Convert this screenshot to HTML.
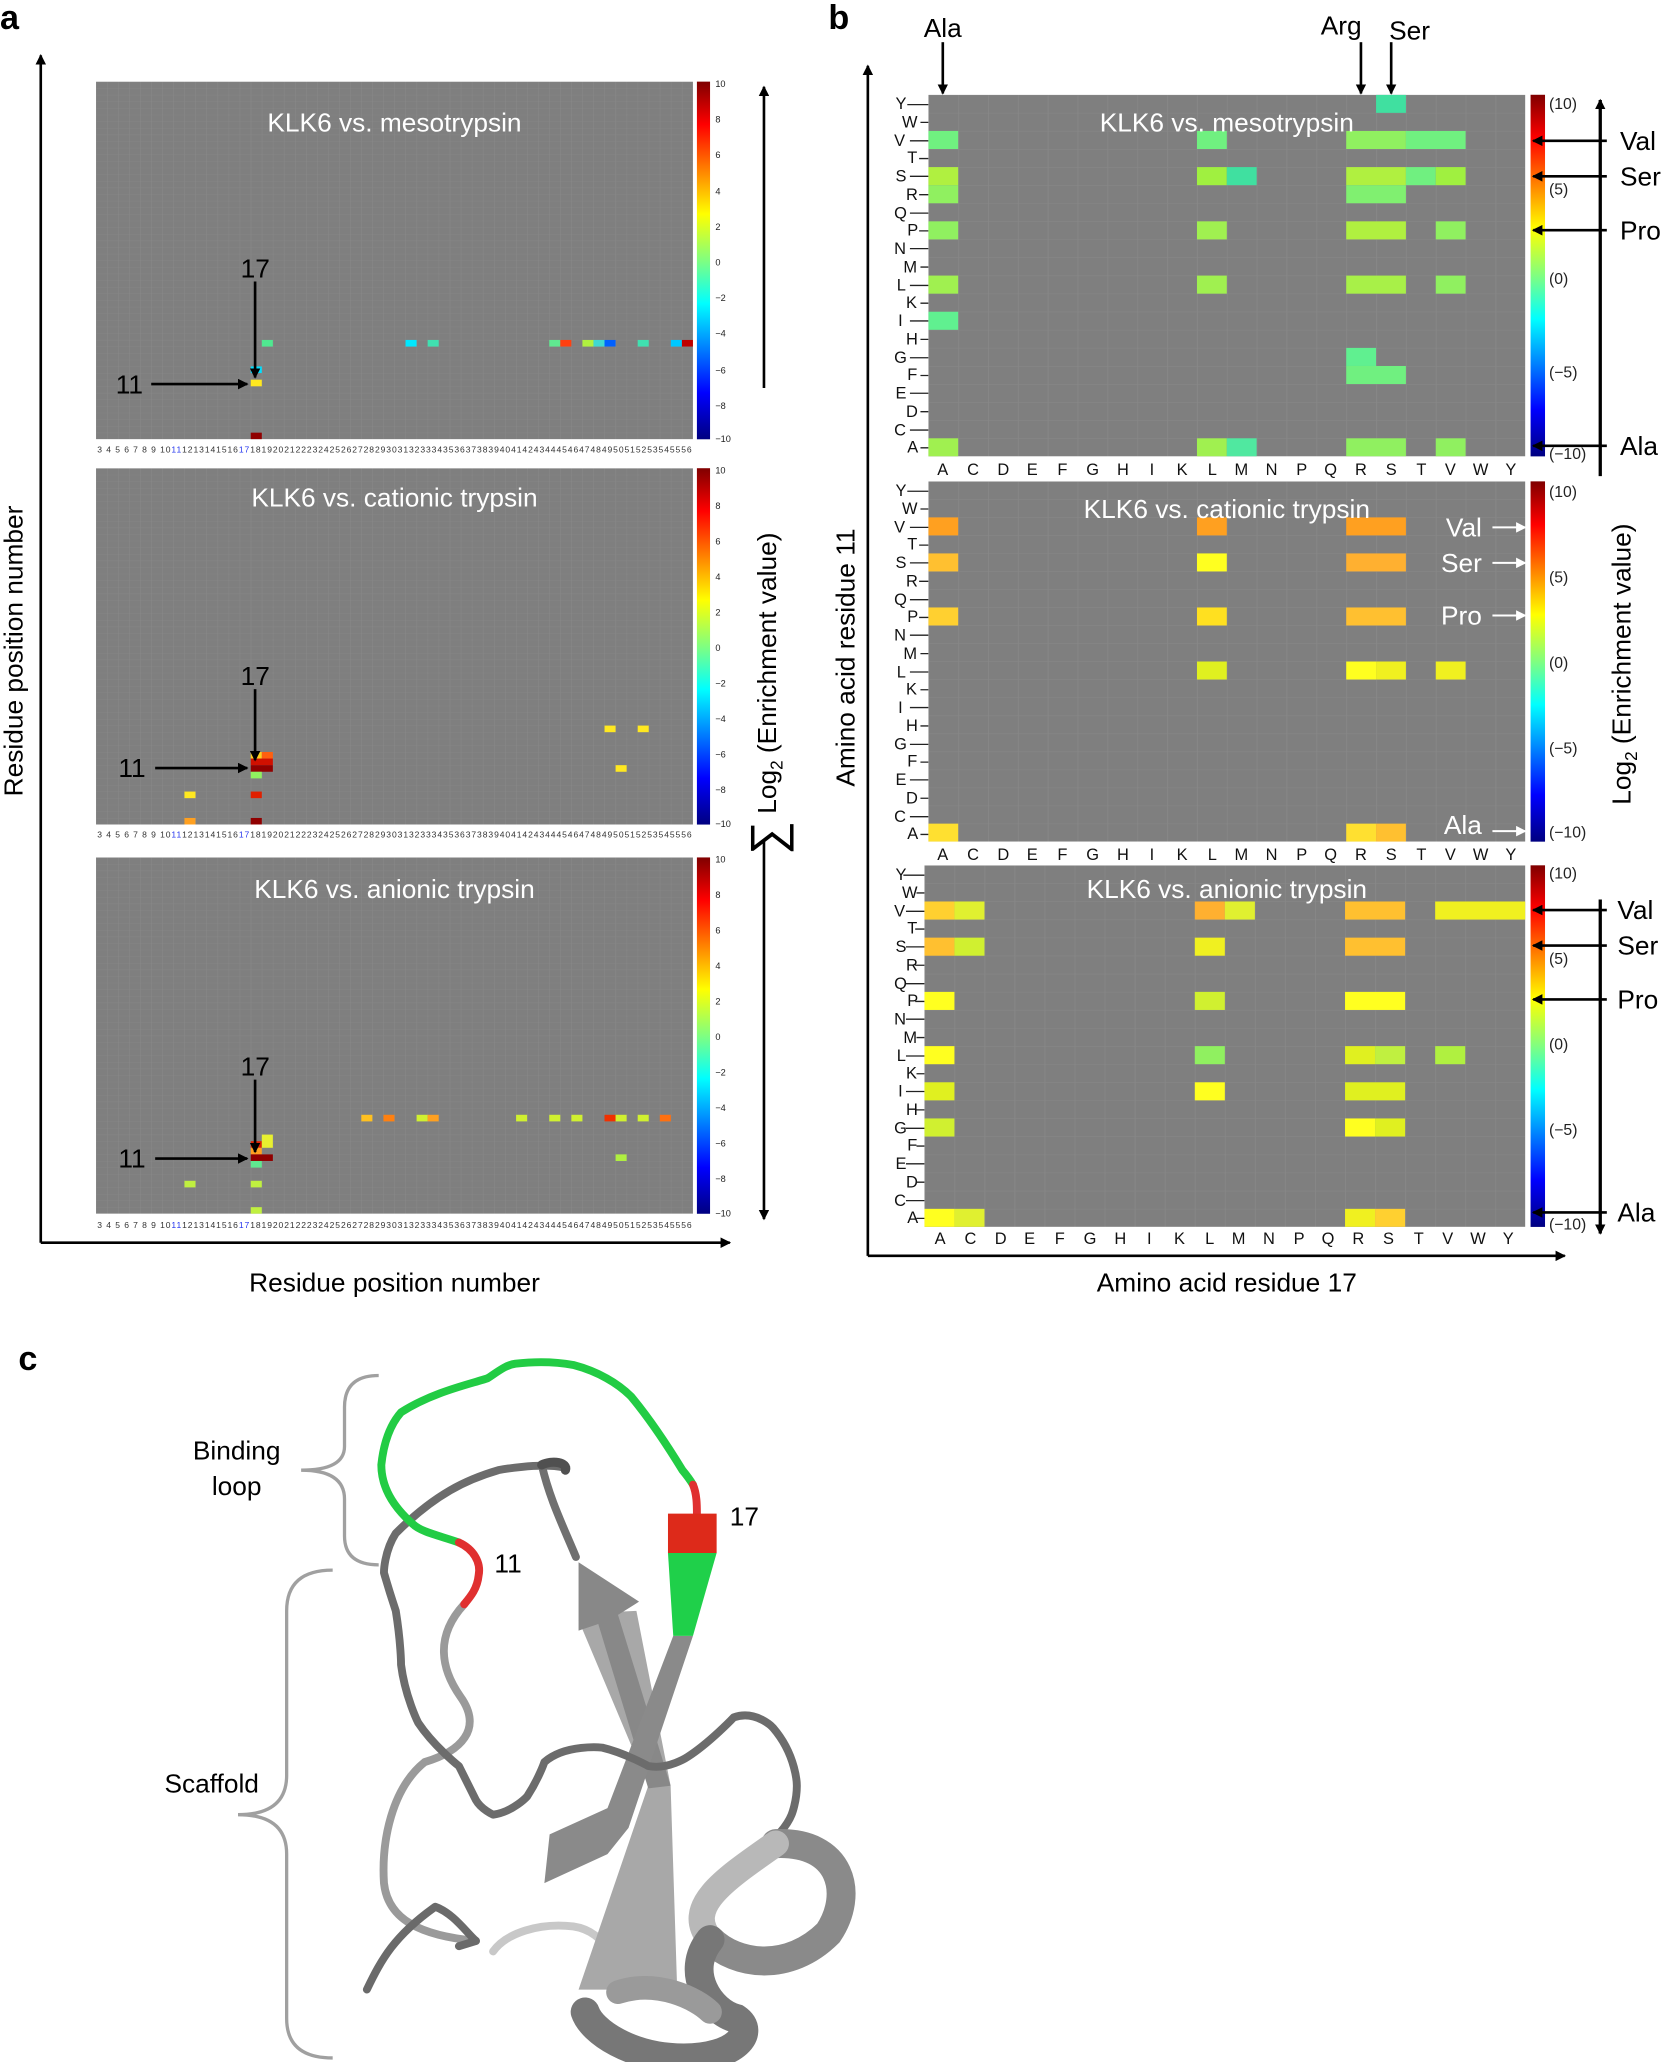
<!DOCTYPE html>
<html><head><meta charset="utf-8"><style>
html,body{margin:0;padding:0;background:#fff;}
svg{display:block;font-family:"Liberation Sans",sans-serif;}
</style></head><body>
<svg width="1666" height="2062" viewBox="0 0 1267 1568" xmlns="http://www.w3.org/2000/svg">
<defs>
<linearGradient id="jet" x1="0" y1="0" x2="0" y2="1">
<stop offset="0" stop-color="#800000"/><stop offset="0.12" stop-color="#ff0000"/><stop offset="0.37" stop-color="#ffff00"/><stop offset="0.5" stop-color="#80ff80"/><stop offset="0.62" stop-color="#00ffff"/><stop offset="0.87" stop-color="#0000ff"/><stop offset="1" stop-color="#000080"/>
</linearGradient>
<pattern id="g1" width="1" height="1" patternUnits="userSpaceOnUse"><rect width="1" height="1" fill="#7f7f7f"/><path d="M0 0H1M0 0V1" stroke="#8a8a8a" stroke-width="0.08" fill="none"/></pattern>
<pattern id="g2" width="1" height="1" patternUnits="userSpaceOnUse"><rect width="1" height="1" fill="#7f7f7f"/><path d="M0 0H1M0 0V1" stroke="#888" stroke-width="0.05" fill="none"/></pattern>
<marker id="ah" markerWidth="8" markerHeight="8" refX="7" refY="4" orient="auto" markerUnits="userSpaceOnUse"><path d="M0 0L8 4L0 8z" fill="#000"/></marker>
<marker id="ahw" markerWidth="8" markerHeight="8" refX="7" refY="4" orient="auto" markerUnits="userSpaceOnUse"><path d="M0 0L8 4L0 8z" fill="#fff"/></marker>
</defs>

<!-- ===== Panel a ===== -->
<text x="0" y="22" font-size="26" font-weight="bold">a</text>
<line x1="31" y1="945" x2="31" y2="42" stroke="#000" stroke-width="2" marker-end="url(#ah)"/>
<line x1="31" y1="945" x2="555" y2="945" stroke="#000" stroke-width="2" marker-end="url(#ah)"/>
<text transform="translate(17,495) rotate(-90)" font-size="20" text-anchor="middle">Residue position number</text>
<text x="300" y="982" font-size="20" text-anchor="middle">Residue position number</text>

<!-- heatmap a1 -->
<svg x="73" y="62" width="454" height="272" viewBox="0 0 54 54" preserveAspectRatio="none">
<rect width="54" height="54" fill="url(#g1)"/>
<rect x="15" y="39" width="1" height="1" fill="#50e890"/>
<rect x="28" y="39" width="1" height="1" fill="#00e8ff"/>
<rect x="30" y="39" width="1" height="1" fill="#40e0b0"/>
<rect x="41" y="39" width="1" height="1" fill="#60e890"/>
<rect x="42" y="39" width="1" height="1" fill="#ff4010"/>
<rect x="44" y="39" width="1" height="1" fill="#b0f040"/>
<rect x="45" y="39" width="1" height="1" fill="#40d8d0"/>
<rect x="46" y="39" width="1" height="1" fill="#0060ff"/>
<rect x="49" y="39" width="1" height="1" fill="#40e0b0"/>
<rect x="52" y="39" width="1" height="1" fill="#00c8ff"/>
<rect x="53" y="39" width="1" height="1" fill="#c00000"/>
<rect x="14" y="43" width="1" height="1" fill="#00e0ff"/>
<rect x="14" y="45" width="1" height="1" fill="#ffe820"/>
<rect x="14" y="53" width="1" height="1" fill="#900000"/>
</svg>
<rect x="530" y="62" width="10" height="272" fill="url(#jet)"/>
<g font-size="7" fill="#222">
<text x="544" y="66">10</text><text x="544" y="93">8</text><text x="544" y="120">6</text><text x="544" y="148">4</text><text x="544" y="175">2</text><text x="544" y="202">0</text><text x="544" y="229">−2</text><text x="544" y="256">−4</text><text x="544" y="284">−6</text><text x="544" y="311">−8</text><text x="544" y="336">−10</text>
</g>
<text x="300" y="100" font-size="20" fill="#fff" text-anchor="middle">KLK6 vs. mesotrypsin</text>

<!-- heatmap a2 -->
<svg x="73" y="356" width="454" height="271" viewBox="0 0 54 54" preserveAspectRatio="none">
<rect width="54" height="54" fill="url(#g1)"/>
<rect x="46" y="39" width="1" height="1" fill="#ffe820"/>
<rect x="49" y="39" width="1" height="1" fill="#ffe820"/>
<rect x="47" y="45" width="1" height="1" fill="#ffe820"/>
<rect x="14" y="43" width="1" height="1" fill="#ffd020"/>
<rect x="15" y="43" width="1" height="1" fill="#ff6010"/>
<rect x="14" y="44" width="2" height="1" fill="#d01000"/>
<rect x="14" y="45" width="2" height="1" fill="#900000"/>
<rect x="14" y="46" width="1" height="1" fill="#90f060"/>
<rect x="8" y="49" width="1" height="1" fill="#ffe820"/>
<rect x="14" y="49" width="1" height="1" fill="#e02000"/>
<rect x="8" y="53" width="1" height="1" fill="#ffa020"/>
<rect x="14" y="53" width="1" height="1" fill="#900000"/>
</svg>
<rect x="530" y="356" width="10" height="271" fill="url(#jet)"/>
<g font-size="7" fill="#222">
<text x="544" y="360">10</text><text x="544" y="387">8</text><text x="544" y="414">6</text><text x="544" y="441">4</text><text x="544" y="468">2</text><text x="544" y="495">0</text><text x="544" y="522">−2</text><text x="544" y="549">−4</text><text x="544" y="576">−6</text><text x="544" y="603">−8</text><text x="544" y="629">−10</text>
</g>
<text x="300" y="385" font-size="20" fill="#fff" text-anchor="middle">KLK6 vs. cationic trypsin</text>

<!-- heatmap a3 -->
<svg x="73" y="652" width="454" height="271" viewBox="0 0 54 54" preserveAspectRatio="none">
<rect width="54" height="54" fill="url(#g1)"/>
<rect x="24" y="39" width="1" height="1" fill="#ffc020"/>
<rect x="26" y="39" width="1" height="1" fill="#ff8010"/>
<rect x="29" y="39" width="1" height="1" fill="#d0f030"/>
<rect x="30" y="39" width="1" height="1" fill="#ffa020"/>
<rect x="38" y="39" width="1" height="1" fill="#d0f030"/>
<rect x="41" y="39" width="1" height="1" fill="#d0f030"/>
<rect x="43" y="39" width="1" height="1" fill="#d0f030"/>
<rect x="46" y="39" width="1" height="1" fill="#f03000"/>
<rect x="47" y="39" width="1" height="1" fill="#d0f030"/>
<rect x="49" y="39" width="1" height="1" fill="#d0f030"/>
<rect x="51" y="39" width="1" height="1" fill="#ff7010"/>
<rect x="47" y="45" width="1" height="1" fill="#b0f040"/>
<rect x="14" y="43" width="1" height="1" fill="#e02000"/>
<rect x="15" y="42" width="1" height="2" fill="#e8f030"/>
<rect x="14" y="44" width="1" height="1" fill="#ffa020"/>
<rect x="14" y="45" width="2" height="1" fill="#900000"/>
<rect x="14" y="46" width="1" height="1" fill="#60e890"/>
<rect x="8" y="49" width="1" height="1" fill="#c0f040"/>
<rect x="14" y="49" width="1" height="1" fill="#c0f040"/>
<rect x="14" y="53" width="1" height="1" fill="#c0f040"/>
</svg>
<rect x="530" y="652" width="10" height="271" fill="url(#jet)"/>
<g font-size="7" fill="#222">
<text x="544" y="656">10</text><text x="544" y="683">8</text><text x="544" y="710">6</text><text x="544" y="737">4</text><text x="544" y="764">2</text><text x="544" y="791">0</text><text x="544" y="818">−2</text><text x="544" y="845">−4</text><text x="544" y="872">−6</text><text x="544" y="899">−8</text><text x="544" y="925">−10</text>
</g>
<text x="300" y="683" font-size="20" fill="#fff" text-anchor="middle">KLK6 vs. anionic trypsin</text>

<!-- x tick label rows -->
<g font-size="6.5" fill="#333">
<text x="74" y="344" textLength="452" lengthAdjust="spacing">3 4 5 6 7 8 9 10<tspan fill="#2233ee">11</tspan>1213141516<tspan fill="#2233ee">17</tspan>181920212223242526272829303132333435363738394041424344454647484950515253545556</text>
<text x="74" y="637" textLength="452" lengthAdjust="spacing">3 4 5 6 7 8 9 10<tspan fill="#2233ee">11</tspan>1213141516<tspan fill="#2233ee">17</tspan>181920212223242526272829303132333435363738394041424344454647484950515253545556</text>
<text x="74" y="934" textLength="452" lengthAdjust="spacing">3 4 5 6 7 8 9 10<tspan fill="#2233ee">11</tspan>1213141516<tspan fill="#2233ee">17</tspan>181920212223242526272829303132333435363738394041424344454647484950515253545556</text>
</g>

<!-- 11/17 annotations -->
<g font-size="20">
<text x="183" y="211">17</text><text x="88" y="299">11</text>
<text x="183" y="521">17</text><text x="90" y="591">11</text>
<text x="183" y="818">17</text><text x="90" y="888">11</text>
</g>
<g stroke="#000" stroke-width="2">
<line x1="194" y1="214" x2="194" y2="287" marker-end="url(#ah)"/>
<line x1="115" y1="292" x2="188" y2="292" marker-end="url(#ah)"/>
<line x1="194" y1="524" x2="194" y2="578" marker-end="url(#ah)"/>
<line x1="118" y1="584" x2="188" y2="584" marker-end="url(#ah)"/>
<line x1="194" y1="821" x2="194" y2="876" marker-end="url(#ah)"/>
<line x1="118" y1="881" x2="188" y2="881" marker-end="url(#ah)"/>
<line x1="581" y1="295" x2="581" y2="66" marker-end="url(#ah)"/>
<line x1="581" y1="640" x2="581" y2="927" marker-end="url(#ah)"/>
</g>
<text transform="translate(590,650) rotate(-90)" font-size="20"><tspan font-size="36" dy="6">∑</tspan><tspan dy="-6"> Log</tspan><tspan font-size="13" dy="5">2</tspan><tspan dy="-5"> (Enrichment value)</tspan></text>

<!-- ===== Panel b ===== -->
<text x="630" y="22" font-size="26" font-weight="bold">b</text>
<line x1="660" y1="955" x2="660" y2="50" stroke="#000" stroke-width="2" marker-end="url(#ah)"/>
<line x1="660" y1="955" x2="1190" y2="955" stroke="#000" stroke-width="2" marker-end="url(#ah)"/>
<text transform="translate(650,500) rotate(-90)" font-size="20" text-anchor="middle">Amino acid residue 11</text>
<text x="933" y="982" font-size="20" text-anchor="middle">Amino acid residue 17</text>
<g font-size="20"><text x="717" y="28" text-anchor="middle">Ala</text><text x="1020" y="26" text-anchor="middle">Arg</text><text x="1072" y="30" text-anchor="middle">Ser</text></g>
<g stroke="#000" stroke-width="2">
<line x1="717" y1="32" x2="717" y2="71" marker-end="url(#ah)"/>
<line x1="1035" y1="32" x2="1035" y2="71" marker-end="url(#ah)"/>
<line x1="1058" y1="32" x2="1058" y2="71" marker-end="url(#ah)"/>
</g>

<!-- b1 meso -->
<svg x="706" y="72" width="454" height="275" viewBox="0 0 20 20" preserveAspectRatio="none">
<rect width="20" height="20" fill="url(#g2)"/>
<rect x="15" y="0" width="1" height="1" fill="#40e0a0"/>
<rect x="0" y="2" width="1" height="1" fill="#70f080"/><rect x="9" y="2" width="1" height="1" fill="#70f080"/><rect x="14" y="2" width="2" height="1" fill="#90f060"/><rect x="16" y="2" width="2" height="1" fill="#70f080"/>
<rect x="0" y="4" width="1" height="1" fill="#b0f040"/><rect x="9" y="4" width="1" height="1" fill="#a0f040"/><rect x="10" y="4" width="1" height="1" fill="#40e0a0"/><rect x="14" y="4" width="2" height="1" fill="#b0f040"/><rect x="16" y="4" width="1" height="1" fill="#70f080"/><rect x="17" y="4" width="1" height="1" fill="#a0f040"/>
<rect x="0" y="5" width="1" height="1" fill="#90f060"/><rect x="14" y="5" width="2" height="1" fill="#80f070"/>
<rect x="0" y="7" width="1" height="1" fill="#90f060"/><rect x="9" y="7" width="1" height="1" fill="#a0f050"/><rect x="14" y="7" width="2" height="1" fill="#b0f040"/><rect x="17" y="7" width="1" height="1" fill="#90f060"/>
<rect x="0" y="10" width="1" height="1" fill="#a0f050"/><rect x="9" y="10" width="1" height="1" fill="#a0f050"/><rect x="14" y="10" width="2" height="1" fill="#a8f048"/><rect x="17" y="10" width="1" height="1" fill="#90f060"/>
<rect x="0" y="12" width="1" height="1" fill="#60f090"/>
<rect x="14" y="14" width="1" height="1" fill="#60f090"/>
<rect x="14" y="15" width="2" height="1" fill="#70f080"/>
<rect x="0" y="19" width="1" height="1" fill="#a0f050"/><rect x="9" y="19" width="1" height="1" fill="#a0f050"/><rect x="10" y="19" width="1" height="1" fill="#50e8a0"/><rect x="14" y="19" width="2" height="1" fill="#90f060"/><rect x="17" y="19" width="1" height="1" fill="#90f060"/>
</svg>
<text x="933" y="100" font-size="20" fill="#fff" text-anchor="middle">KLK6 vs. mesotrypsin</text>

<!-- b2 cationic -->
<svg x="706" y="366" width="454" height="274" viewBox="0 0 20 20" preserveAspectRatio="none">
<rect width="20" height="20" fill="url(#g2)"/>
<rect x="0" y="2" width="1" height="1" fill="#ffa020"/><rect x="9" y="2" width="1" height="1" fill="#ffa020"/><rect x="14" y="2" width="2" height="1" fill="#ffa020"/>
<rect x="0" y="4" width="1" height="1" fill="#ffc030"/><rect x="9" y="4" width="1" height="1" fill="#ffff20"/><rect x="14" y="4" width="2" height="1" fill="#ffb030"/>
<rect x="0" y="7" width="1" height="1" fill="#ffd030"/><rect x="9" y="7" width="1" height="1" fill="#ffe020"/><rect x="14" y="7" width="2" height="1" fill="#ffc030"/>
<rect x="9" y="10" width="1" height="1" fill="#e0f020"/><rect x="14" y="10" width="1" height="1" fill="#ffff20"/><rect x="15" y="10" width="1" height="1" fill="#f0f020"/><rect x="17" y="10" width="1" height="1" fill="#f0f020"/>
<rect x="0" y="19" width="1" height="1" fill="#ffe030"/><rect x="14" y="19" width="1" height="1" fill="#ffe030"/><rect x="15" y="19" width="1" height="1" fill="#ffc030"/>
</svg>
<text x="933" y="394" font-size="20" fill="#fff" text-anchor="middle">KLK6 vs. cationic trypsin</text>

<!-- b3 anionic -->
<svg x="703" y="658" width="457" height="275" viewBox="0 0 20 20" preserveAspectRatio="none">
<rect width="20" height="20" fill="url(#g2)"/>
<rect x="0" y="2" width="1" height="1" fill="#ffd030"/><rect x="1" y="2" width="1" height="1" fill="#e0f030"/><rect x="9" y="2" width="1" height="1" fill="#ffb030"/><rect x="10" y="2" width="1" height="1" fill="#e0f030"/><rect x="14" y="2" width="2" height="1" fill="#ffc030"/><rect x="17" y="2" width="3" height="1" fill="#f0f020"/>
<rect x="0" y="4" width="1" height="1" fill="#ffc030"/><rect x="1" y="4" width="1" height="1" fill="#d0f030"/><rect x="9" y="4" width="1" height="1" fill="#f0f020"/><rect x="14" y="4" width="2" height="1" fill="#ffc030"/>
<rect x="0" y="7" width="1" height="1" fill="#ffff20"/><rect x="9" y="7" width="1" height="1" fill="#d0f030"/><rect x="14" y="7" width="2" height="1" fill="#ffff20"/>
<rect x="0" y="10" width="1" height="1" fill="#ffff20"/><rect x="9" y="10" width="1" height="1" fill="#90f060"/><rect x="14" y="10" width="1" height="1" fill="#e0f020"/><rect x="15" y="10" width="1" height="1" fill="#c0f040"/><rect x="17" y="10" width="1" height="1" fill="#b0f040"/>
<rect x="0" y="12" width="1" height="1" fill="#e0f020"/><rect x="9" y="12" width="1" height="1" fill="#ffff20"/><rect x="14" y="12" width="2" height="1" fill="#e0f020"/>
<rect x="0" y="14" width="1" height="1" fill="#d0f030"/><rect x="14" y="14" width="1" height="1" fill="#ffff20"/><rect x="15" y="14" width="1" height="1" fill="#e0f020"/>
<rect x="0" y="19" width="1" height="1" fill="#ffff20"/><rect x="1" y="19" width="1" height="1" fill="#e0f030"/><rect x="14" y="19" width="1" height="1" fill="#f0f020"/><rect x="15" y="19" width="1" height="1" fill="#ffd030"/>
</svg>
<text x="933" y="683" font-size="20" fill="#fff" text-anchor="middle">KLK6 vs. anionic trypsin</text>

<!-- row labels b -->
<g font-size="12.5" fill="#111">
<g id="rows1">
<text x="681" y="83">Y</text><text x="686" y="97">W</text><text x="680" y="111">V</text><text x="690" y="124">T</text><text x="681" y="138">S</text><text x="689" y="152">R</text><text x="680" y="166">Q</text><text x="690" y="179">P</text><text x="680" y="193">N</text><text x="687" y="207">M</text><text x="682" y="221">L</text><text x="689" y="234">K</text><text x="683" y="248">I</text><text x="689" y="262">H</text><text x="680" y="276">G</text><text x="690" y="289">F</text><text x="681" y="303">E</text><text x="689" y="317">D</text><text x="680" y="331">C</text><text x="690" y="344">A</text>
</g>
<use href="#rows1" y="294"/>
<use href="#rows1" y="586"/>
</g>
<g stroke="#222" stroke-width="1">
<path id="tk1" d="M690 79.5H706M700 93H706M692 107H706M699 120.5H706M692 134H706M699 148H706M692 162H706M699 175.5H706M692 189H706M700 203H706M692 217H706M700 230.5H706M692 244H706M700 258H706M692 272H706M700 285.5H706M692 299H706M700 313H706M692 327H706M700 340.5H706"/>
<use href="#tk1" y="294"/>
<use href="#tk1" x="-3" y="586"/>
</g>
<!-- col labels b -->
<g font-size="12.5" fill="#111" text-anchor="middle">
<g id="cols1">
<text x="717" y="361">A</text><text x="740" y="361">C</text><text x="763" y="361">D</text><text x="785" y="361">E</text><text x="808" y="361">F</text><text x="831" y="361">G</text><text x="854" y="361">H</text><text x="876" y="361">I</text><text x="899" y="361">K</text><text x="922" y="361">L</text><text x="944" y="361">M</text><text x="967" y="361">N</text><text x="990" y="361">P</text><text x="1012" y="361">Q</text><text x="1035" y="361">R</text><text x="1058" y="361">S</text><text x="1081" y="361">T</text><text x="1103" y="361">V</text><text x="1126" y="361">W</text><text x="1149" y="361">Y</text>
</g>
<use href="#cols1" y="293"/>
<use href="#cols1" x="-2" y="585"/>
</g>

<!-- colorbars b -->
<rect x="1164" y="72" width="11" height="275" fill="url(#jet)"/>
<rect x="1164" y="366" width="11" height="274" fill="url(#jet)"/>
<rect x="1164" y="658" width="11" height="275" fill="url(#jet)"/>
<g font-size="12" fill="#222">
<text x="1178" y="83">(10)</text><text x="1178" y="148">(5)</text><text x="1178" y="216">(0)</text><text x="1178" y="287">(−5)</text><text x="1178" y="349">(−10)</text>
<text x="1178" y="378">(10)</text><text x="1178" y="443">(5)</text><text x="1178" y="508">(0)</text><text x="1178" y="573">(−5)</text><text x="1178" y="637">(−10)</text>
<text x="1178" y="668">(10)</text><text x="1178" y="733">(5)</text><text x="1178" y="798">(0)</text><text x="1178" y="863">(−5)</text><text x="1178" y="935">(−10)</text>
</g>
<g stroke="#000" stroke-width="2.5">
<line x1="1217" y1="362" x2="1217" y2="76" marker-end="url(#ah)"/>
<line x1="1217" y1="684" x2="1217" y2="938" marker-end="url(#ah)"/>
</g>
<g stroke="#000" stroke-width="2">
<line x1="1222" y1="107" x2="1166" y2="107" marker-end="url(#ah)"/>
<line x1="1222" y1="134" x2="1166" y2="134" marker-end="url(#ah)"/>
<line x1="1222" y1="175" x2="1166" y2="175" marker-end="url(#ah)"/>
<line x1="1222" y1="339" x2="1166" y2="339" marker-end="url(#ah)"/>
<line x1="1222" y1="692" x2="1166" y2="692" marker-end="url(#ah)"/>
<line x1="1222" y1="719" x2="1166" y2="719" marker-end="url(#ah)"/>
<line x1="1222" y1="760" x2="1166" y2="760" marker-end="url(#ah)"/>
<line x1="1222" y1="922" x2="1166" y2="922" marker-end="url(#ah)"/>
</g>
<g font-size="20">
<text x="1232" y="114">Val</text><text x="1232" y="141">Ser</text><text x="1232" y="182">Pro</text><text x="1232" y="346">Ala</text>
<text x="1230" y="699">Val</text><text x="1230" y="726">Ser</text><text x="1230" y="767">Pro</text><text x="1230" y="929">Ala</text>
</g>
<g font-size="20" fill="#fff" text-anchor="end">
<text x="1127" y="408">Val</text><text x="1127" y="435">Ser</text><text x="1127" y="475">Pro</text><text x="1127" y="634">Ala</text>
</g>
<g stroke="#fff" stroke-width="1.5">
<line x1="1135" y1="401" x2="1160" y2="401" marker-end="url(#ahw)"/>
<line x1="1135" y1="428" x2="1160" y2="428" marker-end="url(#ahw)"/>
<line x1="1135" y1="468" x2="1160" y2="468" marker-end="url(#ahw)"/>
<line x1="1135" y1="632" x2="1160" y2="632" marker-end="url(#ahw)"/>
</g>
<text transform="translate(1240,505) rotate(-90)" font-size="20" text-anchor="middle">Log<tspan font-size="13" dy="5">2</tspan><tspan dy="-5"> (Enrichment value)</tspan></text>

<!-- ===== Panel c ===== -->
<text x="14" y="1042" font-size="26" font-weight="bold">c</text>
<g fill="none" stroke="#a0a0a0" stroke-width="2.5">
<path d="M288 1046 Q262 1046 262 1070 L262 1100 Q262 1118 229 1118 Q262 1118 262 1140 L262 1168 Q262 1190 288 1190"/>
<path d="M253 1194 Q218 1194 218 1225 L218 1350 Q218 1380 181 1380 Q218 1380 218 1410 L218 1535 Q218 1565 253 1565"/>
</g>
<g font-size="20" text-anchor="middle"><text x="180" y="1110">Binding</text><text x="180" y="1137">loop</text><text x="161" y="1363">Scaffold</text></g>
<text x="555" y="1160" font-size="20">17</text>
<text x="376" y="1196" font-size="20">11</text>

<!-- light gray background strands -->
<g fill="none" stroke-linecap="round" stroke-linejoin="round">
<path d="M353 1220 C330 1245 336 1270 350 1290 C368 1315 350 1332 323 1340 C298 1360 290 1400 292 1432 C295 1460 320 1472 362 1476" stroke="#9a9a9a" stroke-width="6"/>
<path d="M375 1484 C385 1470 410 1462 436 1465 C450 1467 458 1476 460 1480" stroke="#c8c8c8" stroke-width="6"/>
<path d="M440 1232 L486 1218 L462 1226 L484 1225 L510 1358 L515 1513 L440 1513 L493 1358 Z" fill="#a8a8a8" stroke="none"/>
<path d="M440 1188 L486 1218 L470 1228 L510 1358 L493 1360 L455 1235 L440 1240 Z" fill="#888" stroke="none"/>
<path d="M512 1244 L527 1244 L478 1390 L462 1410 L414 1432 L418 1395 L462 1375 Z" fill="#8a8a8a" stroke="none"/>
<path d="M279 1513 C290 1490 300 1472 331 1450 C345 1455 355 1470 362 1476 L349 1480" stroke="#6a6a6a" stroke-width="6"/>
<!-- main dark tube -->
<path d="M429 1116 C410 1112 379 1118 379 1118 C355 1125 331 1136 301 1166 C292 1180 292 1196 292 1196 C296 1210 301 1225 301 1225 C305 1250 305 1266 305 1266 C308 1290 318 1310 318 1310 C330 1328 349 1343 349 1343 C355 1355 362 1369 362 1369 C366 1376 375 1380 375 1380 C390 1378 401 1366 401 1366 C410 1352 414 1340 414 1340 C430 1326 458 1329 458 1329 C475 1333 493 1343 493 1343 C508 1346 523 1336 523 1336 C540 1325 558 1306 558 1306 C575 1300 588 1314 588 1314 C606 1335 606 1358 606 1358 C606 1370 602 1380 602 1380 C598 1390 588 1399 588 1399" stroke="#6c6c6c" stroke-width="6"/>
<path d="M412 1114 C418 1140 428 1160 438 1184" stroke="#707070" stroke-width="6"/>
<path d="M412 1114 C420 1110 432 1112 430 1118" stroke="#505050" stroke-width="7"/>
<!-- green loop -->
<path d="M349 1173 C335 1168 320 1165 314 1159 C298 1145 290 1130 290 1114 C292 1095 298 1082 305 1074 C330 1058 360 1052 371 1048 C380 1042 385 1038 392 1037 C410 1035 425 1036 436 1038 C455 1043 470 1052 480 1062 C495 1080 508 1100 519 1118 C524 1124 527 1129 527 1129" stroke="#22cc44" stroke-width="6"/>
<path d="M349 1173 C360 1178 366 1188 364 1198 C363 1208 358 1214 353 1220" stroke="#e03030" stroke-width="6"/>
<path d="M527 1129 C530 1136 530 1145 530 1151" stroke="#e03030" stroke-width="6"/>
</g>
<path d="M508 1151 L545 1151 L545 1181 L508 1181 Z" fill="#dd2a1a"/>
<path d="M508 1181 L545 1181 L527 1244 L512 1244 Z" fill="#1fd04a"/>
<!-- helix -->
<g fill="none" stroke-linecap="round">
<path d="M590 1402 C640 1400 650 1440 630 1470 C600 1500 560 1495 540 1475" stroke="#8a8a8a" stroke-width="22"/>
<path d="M540 1475 C520 1450 550 1430 590 1402" stroke="#b8b8b8" stroke-width="20"/>
<path d="M540 1475 C520 1500 540 1530 560 1535 C575 1545 560 1565 520 1565 C480 1565 450 1545 445 1530" stroke="#777" stroke-width="22"/>
<path d="M470 1515 C500 1505 530 1520 540 1530" stroke="#9a9a9a" stroke-width="18"/>
</g>
</svg>
</body></html>
